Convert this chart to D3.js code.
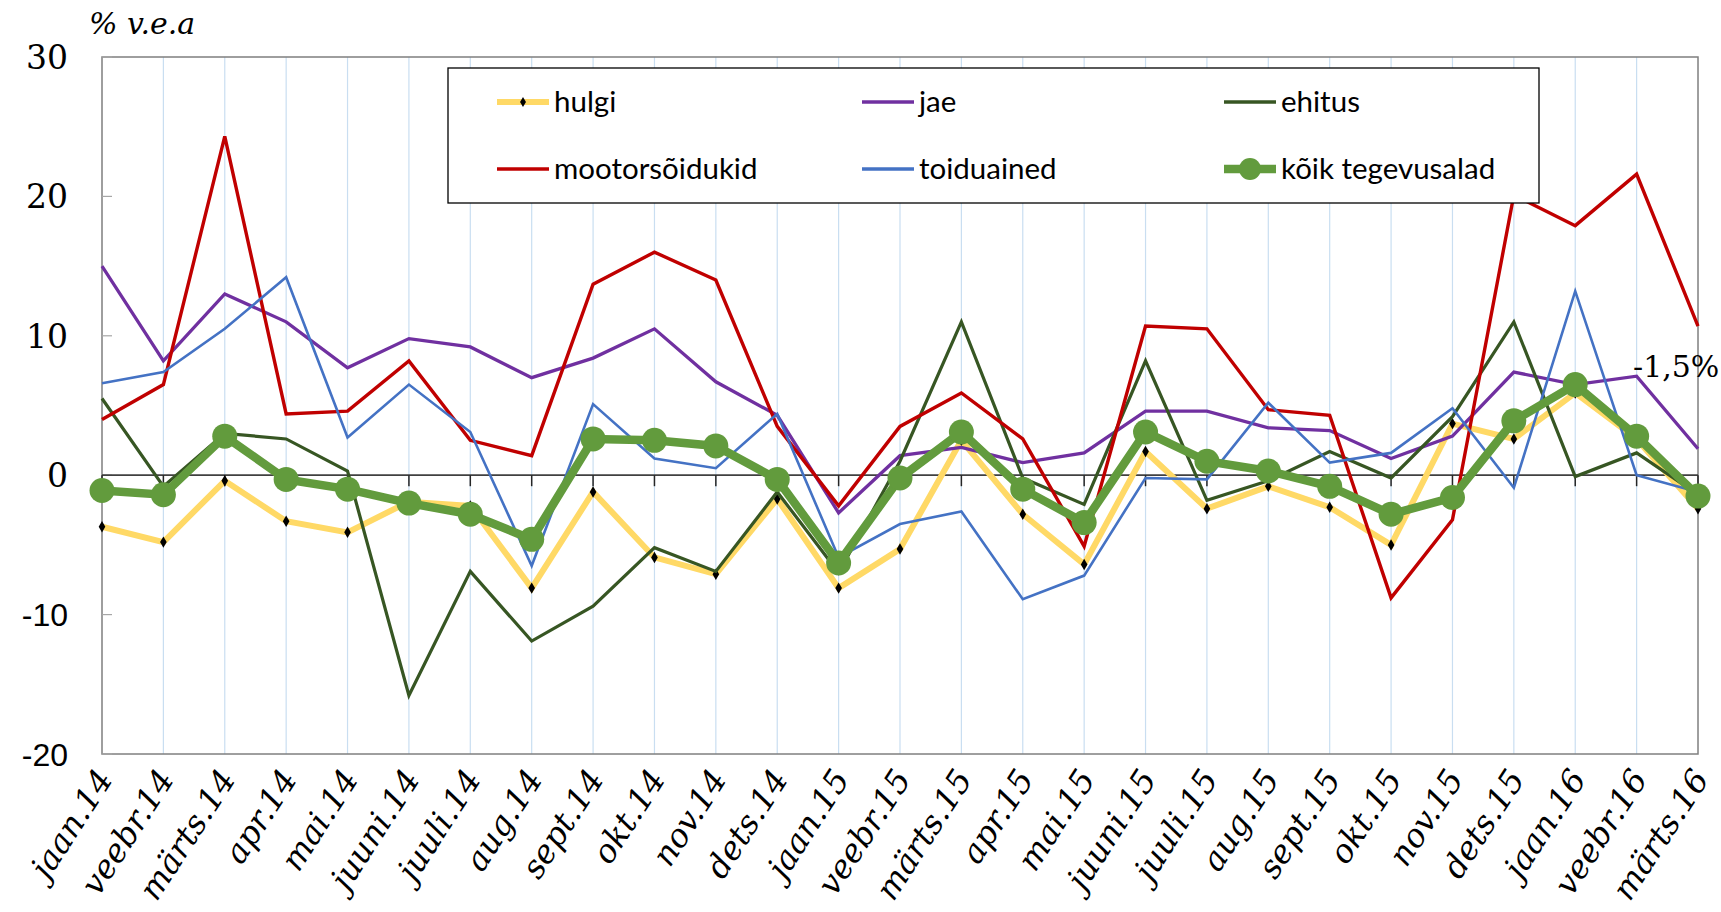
<!DOCTYPE html>
<html>
<head>
<meta charset="utf-8">
<script src="https://cdn.jsdelivr.net/npm/d3@7"></script>
<style>
  body { margin: 0; background: #fff; }
  svg { display: block; }
</style>
</head>
<body>
<svg id="chart"></svg>
<script>
var months = ["jaan.14", "veebr.14", "märts.14", "apr.14", "mai.14", "juuni.14", "juuli.14", "aug.14", "sept.14", "okt.14", "nov.14", "dets.14",
    "jaan.15", "veebr.15", "märts.15", "apr.15", "mai.15", "juuni.15", "juuli.15", "aug.15", "sept.15", "okt.15", "nov.15", "dets.15",
    "jaan.16", "veebr.16", "märts.16"];

var hulgi = [-3.7, -4.8, -0.4, -3.3, -4.1, -1.9, -2.2, -8.1, -1.2, -5.9, -7.1, -1.7,
    -8.1, -5.3, 2.5, -2.8, -6.4, 1.7, -2.4, -0.8, -2.3, -5.0, 3.7, 2.6, 5.9, 2.6, -2.4];
var jae = [15.0, 8.2, 13.0, 11.0, 7.7, 9.8, 9.2, 7.0, 8.4, 10.5, 6.7, 4.3,
    -2.7, 1.4, 2.0, 0.9, 1.6, 4.6, 4.6, 3.4, 3.2, 1.2, 2.8, 7.4, 6.5, 7.1, 1.9];
var ehitus = [5.5, -0.8, 3.0, 2.6, 0.3, -15.8, -6.9, -11.9, -9.4, -5.2, -6.9, -1.2,
    -7.0, 1.0, 11.0, -0.2, -2.1, 8.2, -1.8, -0.4, 1.7, -0.2, 4.2, 11.0, -0.1, 1.6, -1.4];
var mootorsoidukid = [4.0, 6.5, 24.3, 4.4, 4.6, 8.2, 2.5, 1.4, 13.7, 16.0, 14.0, 3.5,
    -2.2, 3.5, 5.9, 2.6, -5.1, 10.7, 10.5, 4.7, 4.3, -8.8, -3.2, 20.1, 17.9, 21.6, 10.7];
var toiduained = [6.6, 7.4, 10.5, 14.2, 2.7, 6.5, 3.1, -6.5, 5.1, 1.2, 0.5, 4.4,
    -5.9, -3.5, -2.6, -8.9, -7.2, -0.2, -0.3, 5.2, 0.9, 1.6, 4.8, -0.9, 13.2, 0.0, -1.2];
var koik = [-1.1, -1.4, 2.8, -0.3, -1.0, -2.0, -2.8, -4.6, 2.6, 2.5, 2.1, -0.3,
    -6.3, -0.2, 3.1, -1.0, -3.4, 3.1, 1.0, 0.3, -0.8, -2.8, -1.6, 3.9, 6.5, 2.8, -1.5];

var yTicks = [-20, -10, 0, 10, 20, 30];
var unitLabel = "% v.e.a";
var lastLabel = "-1,5%";

var chartW = 1721, chartH = 912;
var plotL = 102, plotR = 1698, plotT = 57, plotB = 754;

var svg = d3.select("#chart").attr("width", chartW).attr("height", chartH);

var x = d3.scalePoint().domain(months).range([plotL, plotR]);
var y = d3.scaleLinear().domain([-20, 30]).range([plotB, plotT]);

// vertical light-blue gridlines
svg.append("g").selectAll("line")
    .data(months.slice(1, -1))
    .enter().append("line")
    .attr("x1", function (d) { return x(d); })
    .attr("x2", function (d) { return x(d); })
    .attr("y1", plotT).attr("y2", plotB)
    .style("stroke", "#c9def1").style("stroke-width", 1.2);

// plot frame
svg.append("rect")
    .attr("x", plotL).attr("y", plotT)
    .attr("width", plotR - plotL).attr("height", plotB - plotT)
    .style("fill", "none").style("stroke", "#7f7f7f").style("stroke-width", 1.5);

// y axis ticks (inside)
svg.append("g").selectAll("line")
    .data(yTicks)
    .enter().append("line")
    .attr("x1", plotL).attr("x2", plotL + 10)
    .attr("y1", function (d) { return y(d); })
    .attr("y2", function (d) { return y(d); })
    .style("stroke", "#a6a6a6").style("stroke-width", 1.2);

// y labels
svg.append("g").selectAll("text")
    .data(yTicks)
    .enter().append("text")
    .attr("x", 68)
    .attr("y", function (d) { return y(d); })
    .attr("dy", "0.36em")
    .attr("text-anchor", "end")
    .style("font-family", function (d) { return d < 0 ? "'Liberation Sans', Arial, sans-serif" : "'DejaVu Serif', serif"; })
    .style("font-size", function (d) { return d < 0 ? "32px" : "33px"; })
    .style("fill", "#000")
    .text(function (d) { return d; });

// zero axis with ticks
svg.append("line")
    .attr("x1", plotL).attr("x2", plotR)
    .attr("y1", y(0)).attr("y2", y(0))
    .style("stroke", "#404040").style("stroke-width", 1.8);

svg.append("g").selectAll("line")
    .data(months)
    .enter().append("line")
    .attr("x1", function (d) { return x(d); })
    .attr("x2", function (d) { return x(d); })
    .attr("y1", y(0)).attr("y2", y(0) + 11)
    .style("stroke", "#262626").style("stroke-width", 1.5);

// x labels
svg.append("g").selectAll("text")
    .data(months)
    .enter().append("text")
    .attr("transform", function (d) { return "translate(" + (x(d) + 12) + ",779) rotate(-57)"; })
    .attr("text-anchor", "end")
    .style("font-family", "'DejaVu Serif', serif")
    .style("font-style", "italic")
    .style("font-size", "32.5px")
    .style("fill", "#000")
    .text(function (d) { return d; });

var line = d3.line()
    .x(function (d, i) { return x(months[i]); })
    .y(function (d) { return y(d); });

var series = [
    { name: "hulgi", values: hulgi, color: "#ffd966", w: 6 },
    { name: "jae", values: jae, color: "#7030a0", w: 3.3 },
    { name: "ehitus", values: ehitus, color: "#375623", w: 3.2 },
    { name: "mootorsõidukid", values: mootorsoidukid, color: "#c00000", w: 3.4 },
    { name: "toiduained", values: toiduained, color: "#4472c4", w: 2.6 },
    { name: "kõik tegevusalad", values: koik, color: "#629b3d", w: 8.5 }
];

var lines = svg.append("g");
series.forEach(function (s) {
    lines.append("path")
        .datum(s.values)
        .attr("d", line)
        .style("fill", "none")
        .style("stroke", s.color)
        .style("stroke-width", s.w)
        .style("stroke-linejoin", "miter");

    if (s.name === "hulgi") {
        lines.append("g").selectAll("path")
            .data(s.values)
            .enter().append("path")
            .attr("d", d3.symbol().type(d3.symbolDiamond).size(38))
            .attr("transform", function (d, i) { return "translate(" + x(months[i]) + "," + y(d) + ")"; })
            .style("fill", "#000");
    }
    if (s.name === "kõik tegevusalad") {
        lines.append("g").selectAll("circle")
            .data(s.values)
            .enter().append("circle")
            .attr("cx", function (d, i) { return x(months[i]); })
            .attr("cy", function (d) { return y(d); })
            .attr("r", 12.5)
            .style("fill", s.color);
    }
});

// unit label and last-value annotation
svg.append("text")
    .attr("x", 89).attr("y", 34)
    .style("font-family", "'DejaVu Serif', serif")
    .style("font-style", "italic")
    .style("font-size", "30px")
    .text(unitLabel);

svg.append("text")
    .attr("x", 1633).attr("y", 377)
    .style("font-family", "'DejaVu Serif', serif")
    .style("font-size", "30px")
    .text(lastLabel);

// legend
var legend = svg.append("g");
legend.append("rect")
    .attr("x", 448).attr("y", 68)
    .attr("width", 1091).attr("height", 135)
    .style("fill", "#fff").style("stroke", "#000").style("stroke-width", 1.3);

var legendCols = [497, 862, 1224];
var legendRows = [102, 169];

series.forEach(function (s, i) {
    var lx = legendCols[i % 3], ly = legendRows[Math.floor(i / 3)];
    var item = legend.append("g");
    item.append("line")
        .attr("x1", lx).attr("x2", lx + 52)
        .attr("y1", ly).attr("y2", ly)
        .style("stroke", s.color)
        .style("stroke-width", s.name === "kõik tegevusalad" ? 8.5 : (s.name === "hulgi" ? 6 : 3.3));
    if (s.name === "hulgi") {
        item.append("path")
            .attr("d", d3.symbol().type(d3.symbolDiamond).size(30))
            .attr("transform", "translate(" + (lx + 26) + "," + ly + ")")
            .style("fill", "#000");
    }
    if (s.name === "kõik tegevusalad") {
        item.append("circle")
            .attr("cx", lx + 26).attr("cy", ly).attr("r", 11)
            .style("fill", s.color);
    }
    item.append("text")
        .attr("x", lx + 57).attr("y", ly)
        .attr("dy", "0.35em")
        .style("font-family", "Lato, sans-serif")
        .style("font-size", "29.5px")
        .text(s.name);
});
</script>
</body>
</html>
